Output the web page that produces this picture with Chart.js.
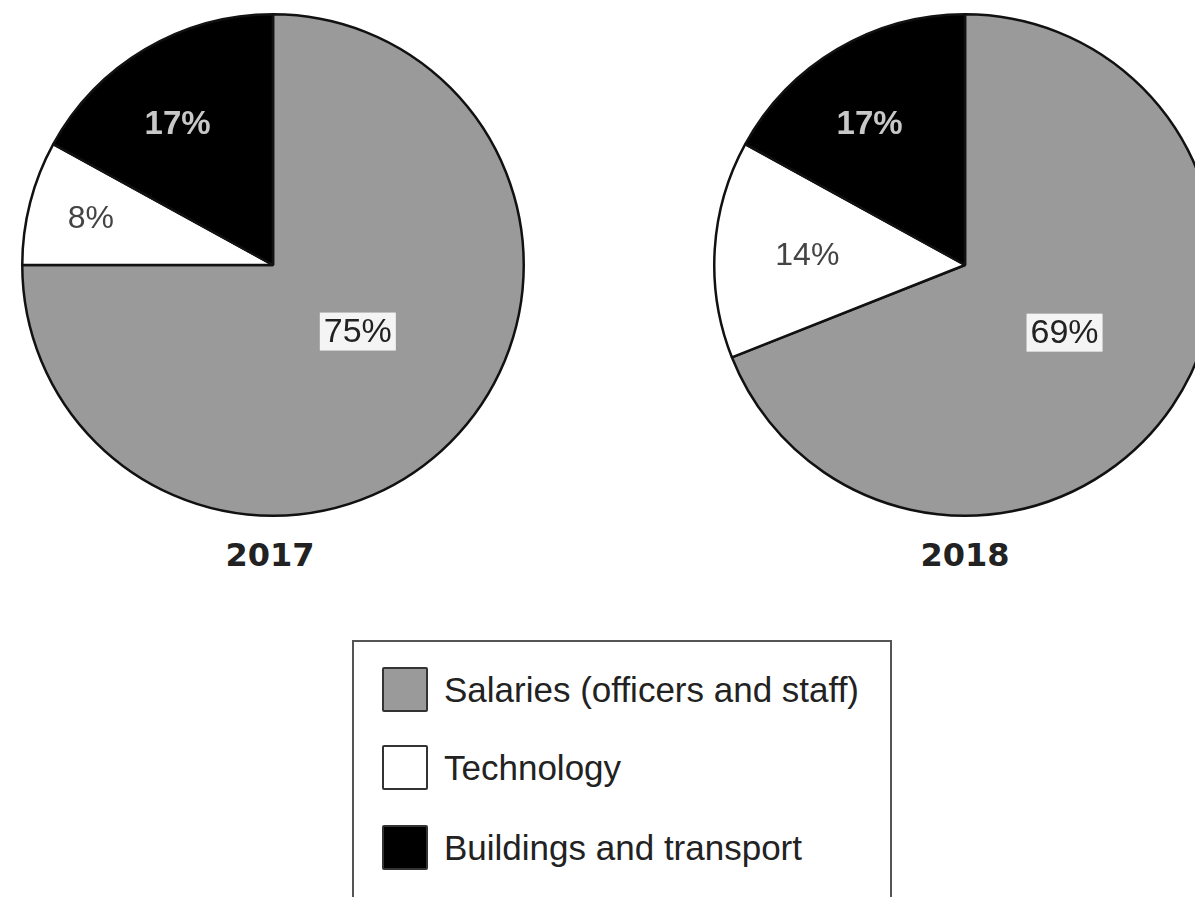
<!DOCTYPE html>
<html>
<head>
<meta charset="utf-8">
<script src="https://cdn.jsdelivr.net/npm/chart.js@4.4.0/dist/chart.umd.min.js"></script>
<style>
  body { margin: 0; width: 1195px; height: 897px; overflow: hidden; background: #fff; position: relative; font-family: "Liberation Sans", Arial, sans-serif; }
  canvas { position: absolute; top: 10px; }
  .year { position: absolute; top: 536px; width: 200px; text-align: center; font: bold 32px "DejaVu Sans", sans-serif; color: #222; }
  #legend { position: absolute; left: 352px; top: 640px; width: 536px; height: 300px; border: 2px solid #555; }
  .item { position: absolute; left: 28px; height: 46px; }
  .sw { position: absolute; left: 0; top: 0; width: 42px; height: 41px; border: 2px solid #333; border-radius: 2px; }
  .txt { position: absolute; left: 62px; top: 1px; white-space: nowrap; font-size: 35px; line-height: 44px; color: #222; }
</style>
</head>
<body>
<canvas id="pie2017" width="510" height="510" style="left:18px"></canvas>
<canvas id="pie2018" width="510" height="510" style="left:710px"></canvas>
<div class="year" style="left:170px">2017</div>
<div class="year" style="left:865px">2018</div>
<div id="legend"></div>

<script>
// data
const categories = ['Salaries (officers and staff)', 'Technology', 'Buildings and transport'];
const years = ['2017', '2018'];
const share2017 = [75, 8, 17];
const share2018 = [69, 14, 17];
const sliceColors = ['#9a9a9a', '#ffffff', '#000000'];

// how far out (as part of the radius) each % label sits, and a small turn (radians)
const labelDist2017 = [0.43, 0.75, 0.68];
const labelDist2018 = [0.48, 0.63, 0.68];
const labelTurn2017 = [-0.12, 0, -0.06];
const labelTurn2018 = [0, 0, -0.06];

// ! draw the % labels in the slices
const sliceLabels = {
  id: 'sliceLabels',
  afterDatasetsDraw(chart, args, opts) {
    const ctx = chart.ctx;
    const meta = chart.getDatasetMeta(0);
    const values = chart.data.datasets[0].data;
    meta.data.forEach((arc, i) => {
      const p = arc.getProps(['x', 'y', 'startAngle', 'endAngle', 'outerRadius'], true);
      const mid = (p.startAngle + p.endAngle) / 2 + opts.turn[i];
      const r = p.outerRadius * opts.dist[i];
      const x = p.x + Math.cos(mid) * r;
      const y = p.y + Math.sin(mid) * r;
      const text = values[i] + '%';
      ctx.save();
      ctx.textAlign = 'center';
      ctx.textBaseline = 'middle';
      if (i == 0) {
        ctx.font = '34px "Liberation Sans", Arial';
        const w = ctx.measureText(text).width;
        ctx.fillStyle = '#f4f4f4';
        ctx.fillRect(x - w / 2 - 4, y - 19, w + 8, 38);
        ctx.fillStyle = '#222';
      } else if (i == 1) {
        ctx.font = '32px "Liberation Sans", Arial';
        ctx.fillStyle = '#444';
      } else {
        ctx.font = 'bold 33px "Liberation Sans", Arial';
        ctx.fillStyle = '#c8c8c8';
      }
      ctx.fillText(text, x, y + 1);
      ctx.restore();
    });
  }
};

function makePie(id, values, dist, turn) {
  return new Chart(document.getElementById(id), {
    type: 'pie',
    data: {
      labels: categories,
      datasets: [{
        data: values,
        backgroundColor: sliceColors,
        borderColor: '#111',
        borderWidth: 2.5
      }]
    },
    options: {
      responsive: false,
      animation: false,
      layout: { padding: 3 },
      plugins: {
        legend: { display: false },
        tooltip: { enabled: false },
        sliceLabels: { dist: dist, turn: turn }
      }
    },
    plugins: [sliceLabels]
  });
}

makePie('pie2017', share2017, labelDist2017, labelTurn2017);
makePie('pie2018', share2018, labelDist2018, labelTurn2018);

// ! legend box
const legend = document.querySelector('#legend');
const rowTop = [25, 103, 183];
categories.forEach((name, i) => {
  legend.innerHTML += `<div class="item" style="top:${rowTop[i]}px">
    <div class="sw" style="background:${sliceColors[i]}"></div>
    <div class="txt">${name}</div></div>`;
});
</script>
</body>
</html>
